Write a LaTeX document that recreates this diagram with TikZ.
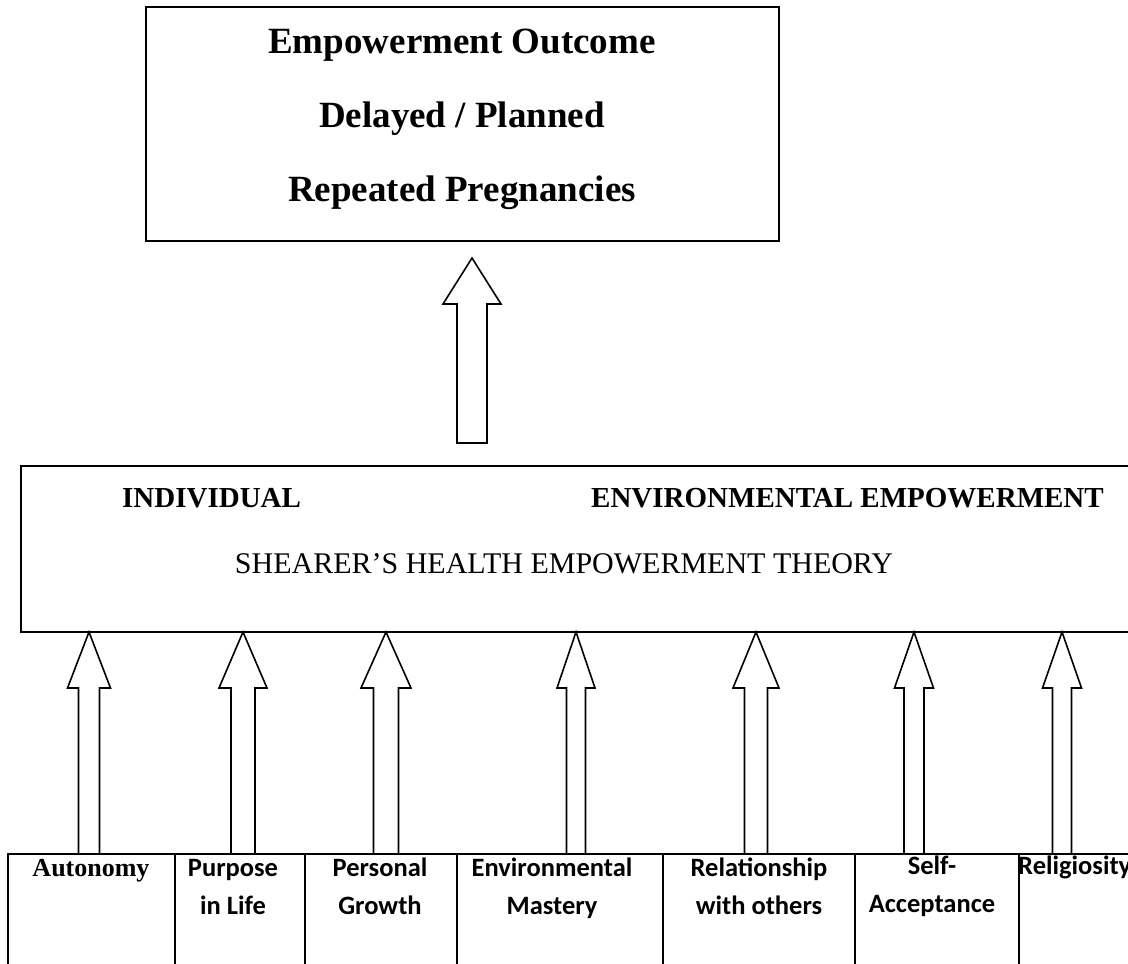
\documentclass[tikz,border=0pt]{standalone}
\usepackage{fontspec}
\setmainfont{Liberation Serif}
\newfontfamily\carl{Carlito}
\usetikzlibrary{calc}
\tikzset{
  box/.style={draw, line width=1.8pt, anchor=north west, outer sep=0pt, inner sep=0pt},
  fat/.style={draw, line width=1.6pt, fill=white, line join=miter},
  ttl/.style={font=\fontsize{37}{44}\selectfont\bfseries, anchor=base, inner sep=0pt},
  midb/.style={font=\fontsize{29}{34}\selectfont\bfseries, inner sep=0pt},
  midr/.style={font=\fontsize{30}{36}\selectfont, anchor=base, inner sep=0pt},
  lab/.style={font=\carl\fontsize{26.5}{32}\selectfont\bfseries, anchor=base, inner sep=0pt},
  labt/.style={font=\fontsize{26}{32}\selectfont\bfseries, anchor=base, inner sep=0pt}
}
% #1 foot, #2 tip, #3 shaft half width, #4 head half width, #5 head length
\newcommand\fatarrow[5]{%
  \draw[fat] ($(#1)+(-#3,0)$) -- ($(#2)+(-#3,#5)$) -- ($(#2)+(-#4,#5)$) -- (#2)
    -- ($(#2)+(#4,#5)$) -- ($(#2)+(#3,#5)$) -- ($(#1)+(#3,0)$) -- cycle;}
\begin{document}
\begin{tikzpicture}[x=1pt,y=-1pt]
\useasboundingbox (0,0) rectangle (1128,964);
\fill[white] (0,0) rectangle (1128,964);
\clip (0,0) rectangle (1128,964);

% top box
\node[box, minimum width=633pt, minimum height=234pt] (top) at (146,7) {};
\node[ttl] (t1) at (462,53) {Empowerment Outcome};
\node[ttl] (t2) at (462,127) {Delayed / Planned};
\node[ttl] (t3) at (462,201) {Repeated Pregnancies};

% middle box
\node[box, minimum width=1200pt, minimum height=166pt] (mid) at (21,466) {};
\node[midb, anchor=base west] (ind) at (122,507) {INDIVIDUAL};
\node[midb, anchor=base east] (env) at (1104,507) {ENVIRONMENTAL EMPOWERMENT};
\node[midr] (she) at (564,573) {SHEARER’S HEALTH EMPOWERMENT THEORY};

% big arrow
\coordinate (bigfoot) at (472,443);
\coordinate (bigtip) at (472,258);
\fatarrow{bigfoot}{bigtip}{15}{29}{46}

% bottom boxes
\node[box, minimum width=167pt, minimum height=160pt] (b1) at (8,854) {};
\node[box, minimum width=130pt, minimum height=160pt] (b2) at (175,854) {};
\node[box, minimum width=152pt, minimum height=160pt] (b3) at (305,854) {};
\node[box, minimum width=206pt, minimum height=160pt] (b4) at (457,854) {};
\node[box, minimum width=192pt, minimum height=160pt] (b5) at (663,854) {};
\node[box, minimum width=164pt, minimum height=160pt] (b6) at (855,854) {};
\node[box, minimum width=200pt, minimum height=160pt] (b7) at (1019,854) {};

\node[labt] (l1) at (91,876) {Autonomy};
\node[lab] (l2a) at (233,876) {Purpose};
\node[lab] (l2b) at (233,914) {in Life};
\node[lab] (l3a) at (380,876) {Personal};
\node[lab] (l3b) at (380,914) {Growth};
\node[lab] (l4a) at (552,876) {Environmental};
\node[lab] (l4b) at (552,914) {Mastery};
\node[lab] (l5a) at (759,876) {Relationship};
\node[lab] (l5b) at (759,914) {with others};
\node[lab] (l6a) at (932,874) {Self-};
\node[lab] (l6b) at (932,912) {Acceptance};
\node[lab, anchor=base west] (l7) at (1018,874) {Religiosity};

% small arrows
\foreach \i/\x/\s/\h in {1/89/10.5/21.5, 2/243/12/24, 3/386/12.5/25, 4/576/9.5/19, 5/756/11.5/23, 6/914/10/19.5, 7/1062/9.5/19.5}{
  \coordinate (x\i) at (\x,0);
  \coordinate (tip\i) at (x\i |- mid.south);
  \coordinate (foot\i) at (x\i |- b1.north);
  \fatarrow{foot\i}{tip\i}{\s}{\h}{56}
}
\end{tikzpicture}
\end{document}
